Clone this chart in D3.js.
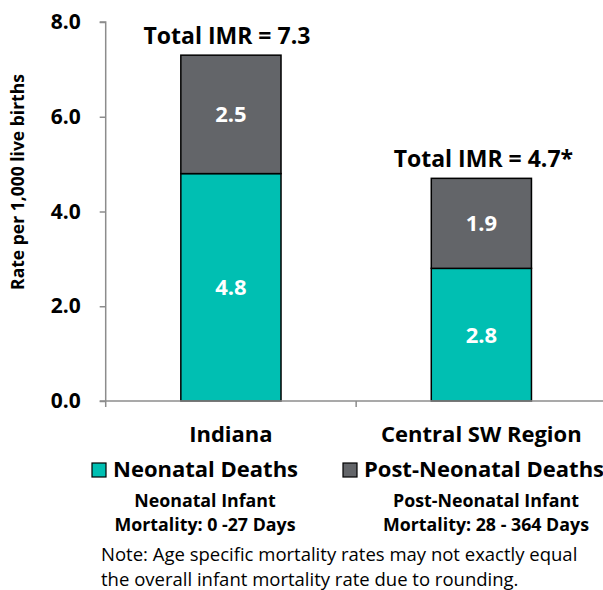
<!DOCTYPE html>
<html>
<head>
<meta charset="utf-8">
<script src="https://cdn.jsdelivr.net/npm/d3@7"></script>
<style>
  html, body { margin: 0; padding: 0; background: #fff; }
  svg { display: block; font-family: "Open Sans", sans-serif; }
</style>
</head>
<body>
<svg id="chart" width="603" height="590"></svg>
<script>
// ---- data ----
const categories = ["Indiana", "Central SW Region"];
const neonatal = [4.8, 2.8];
const postNeonatal = [2.5, 1.9];
const totalLabels = ["Total IMR = 7.3", "Total IMR = 4.7*"];
const seriesNames = ["Neonatal Deaths", "Post-Neonatal Deaths"];
const seriesNotes = [["Neonatal Infant", "Mortality: 0 -27 Days"], ["Post-Neonatal Infant", "Mortality: 28 - 364 Days"]];
const yTicks = [0, 2, 4, 6, 8];
const yTitle = "Rate per 1,000 live births";
const noteLines = ["Note: Age specific mortality rates may not exactly equal", "the overall infant mortality rate due to rounding."];

const colors = ["#00BFB2", "#636569"];

const svg = d3.select("#chart");
const x0 = 105.7, x1 = 606.6, yBottom = 401, yTop = 22;

const x = d3.scaleBand().domain(categories).range([x0, x1]).padding(0);
const y = d3.scaleLinear().domain([0, 8]).range([yBottom, yTop]);
const barW = x.step() * 0.4;
const barX = c => x(c) + (x.bandwidth() - barW) / 2;
const cx = c => x(c) + x.bandwidth() / 2;

const rows = categories.map((c, i) => ({ cat: c, neo: neonatal[i], post: postNeonatal[i] }));
const stacked = d3.stack().keys(["neo", "post"])(rows);

// bars
stacked.forEach((layer, li) => {
  svg.append("g").selectAll("rect").data(layer).join("rect")
    .attr("x", d => barX(d.data.cat))
    .attr("y", d => y(d[1]))
    .attr("width", barW)
    .attr("height", d => y(d[0]) - y(d[1]))
    .attr("fill", colors[li])
    .attr("stroke", "#000")
    .attr("stroke-width", 1.5);
  svg.append("g").selectAll("text").data(layer).join("text")
    .attr("x", d => cx(d.data.cat))
    .attr("y", d => (y(d[0]) + y(d[1])) / 2)
    .attr("dy", "0.36em")
    .attr("text-anchor", "middle")
    .attr("fill", "#fff")
    .attr("font-weight", 700)
    .attr("font-size", 22)
    .text(d => (d[1] - d[0]).toFixed(1));
});

// total labels
svg.append("g").selectAll("text").data(rows).join("text")
  .attr("x", (d, i) => cx(d.cat) + (i === 0 ? -4 : 2))
  .attr("y", d => y(d.neo + d.post) - 11)
  .attr("text-anchor", "middle")
  .attr("font-weight", 700)
  .attr("font-size", 23)
  .attr("fill", "#000")
  .text((d, i) => totalLabels[i]);

// y axis
const yAxis = d3.axisLeft(y).tickValues(yTicks).tickFormat(d3.format(".1f")).tickSize(6).tickPadding(19);
const gy = svg.append("g").attr("transform", `translate(${x0},0)`).call(yAxis);
gy.select(".domain").attr("stroke", "#8c8c8c").attr("stroke-width", 1.5).attr("d", `M-6,${yTop}H0V${yBottom}`);
gy.selectAll(".tick line").attr("stroke", "#8c8c8c").attr("stroke-width", 1.5);
gy.selectAll(".tick text").attr("font-family", "Open Sans").attr("font-weight", 700).attr("font-size", 21).attr("fill", "#000");

// x axis
const xAxis = d3.axisBottom(x).tickSize(0).tickFormat("");
const gx = svg.append("g").attr("transform", `translate(0,${yBottom})`).call(xAxis);
gx.select(".domain").attr("stroke", "#8c8c8c").attr("stroke-width", 1.5).attr("d", `M${x0 - 6},0H${x1}`);
gx.selectAll(".tick").remove();
// category separators
gx.selectAll("line.sep").data([x0, x(categories[1])]).join("line")
  .attr("x1", d => d).attr("x2", d => d).attr("y1", 0).attr("y2", 6)
  .attr("stroke", "#8c8c8c").attr("stroke-width", 1.5);

// category labels
svg.append("g").selectAll("text").data(categories).join("text")
  .attr("x", d => cx(d))
  .attr("y", 442)
  .attr("text-anchor", "middle")
  .attr("font-weight", 700)
  .attr("font-size", 22)
  .attr("fill", "#000")
  .text(d => d);

// y title
svg.append("text")
  .attr("transform", "translate(24,182) rotate(-90)")
  .attr("text-anchor", "middle")
  .attr("font-weight", 700)
  .attr("font-size", 17.5)
  .attr("fill", "#000")
  .text(yTitle);

// legend
const legX = [92, 343];
const noteCx = [205, 486];
seriesNames.forEach((name, i) => {
  svg.append("rect").attr("x", legX[i]).attr("y", 463).attr("width", 14).attr("height", 14)
    .attr("fill", colors[i]).attr("stroke", "#000").attr("stroke-width", 1.2);
  svg.append("text").attr("x", legX[i] + 21).attr("y", 477)
    .attr("font-weight", 700).attr("font-size", 22).attr("fill", "#000").text(name);
  seriesNotes[i].forEach((ln, j) => {
    svg.append("text").attr("x", noteCx[i]).attr("y", 507 + j * 24)
      .attr("text-anchor", "middle").attr("font-weight", 700).attr("font-size", 17.8)
      .attr("fill", "#000").text(ln);
  });
});

// note
noteLines.forEach((ln, j) => {
  svg.append("text").attr("x", 101).attr("y", 561 + j * 25)
    .attr("font-size", 18.5).attr("fill", "#000").text(ln);
});
</script>
</body>
</html>
